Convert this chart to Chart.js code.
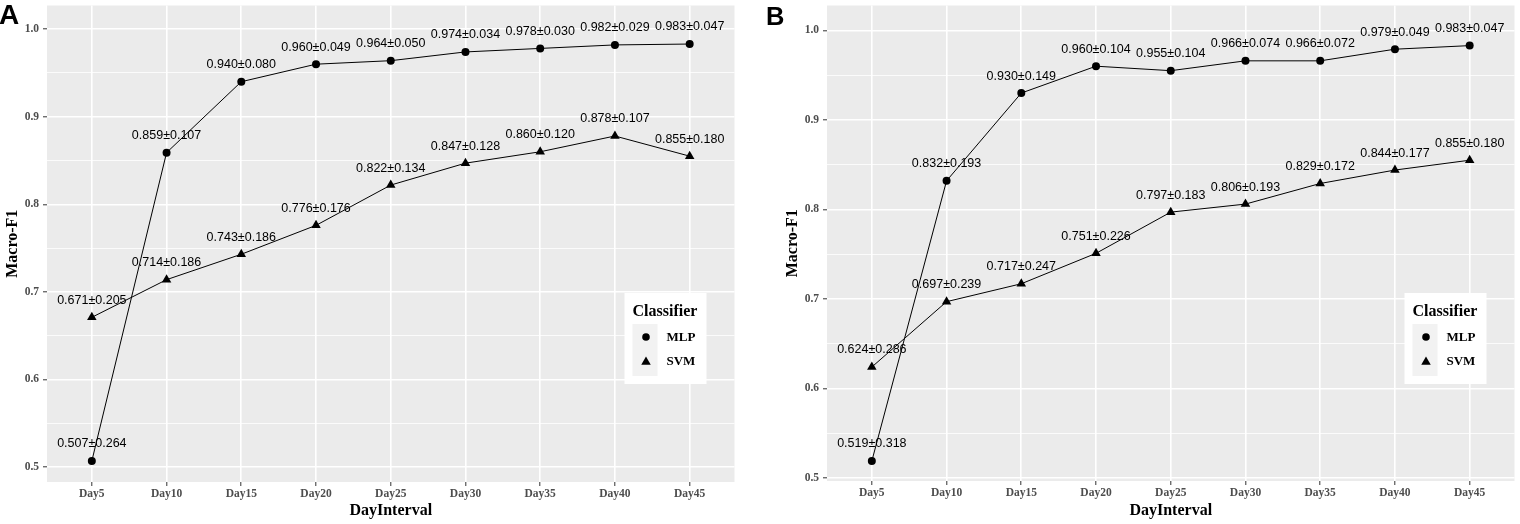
<!DOCTYPE html>
<html>
<head>
<meta charset="utf-8">
<script src="https://cdn.jsdelivr.net/npm/chart.js@4/dist/chart.umd.min.js"></script>
<style>
  body { margin: 0; background: #fff; }
  #wrap { position: relative; width: 1520px; height: 524px; overflow: hidden; }
  canvas { position: absolute; top: 0; }
  .panel-letter { position: absolute; font-family: 'Liberation Sans', Arial, sans-serif; font-weight: bold; line-height: 1; color: #000; }
</style>
</head>
<body>
<div id="wrap">
  <canvas id="chartA" width="740" height="524" style="left:0"></canvas>
  <canvas id="chartB" width="740" height="524" style="left:780px"></canvas>
  <div class="panel-letter" style="left:-1px; top:1px; font-size:28px;">A</div>
  <div class="panel-letter" style="left:766px; top:4px; font-size:25.5px;">B</div>
</div>
<script>
// categories
const dayLabels = ['Day5', 'Day10', 'Day15', 'Day20', 'Day25', 'Day30', 'Day35', 'Day40', 'Day45'];

// panel A
const mlpA = [0.507, 0.859, 0.940, 0.960, 0.964, 0.974, 0.978, 0.982, 0.983];
const mlpSdA = [0.264, 0.107, 0.080, 0.049, 0.050, 0.034, 0.030, 0.029, 0.047];
const svmA = [0.671, 0.714, 0.743, 0.776, 0.822, 0.847, 0.860, 0.878, 0.855];
const svmSdA = [0.205, 0.186, 0.186, 0.176, 0.134, 0.128, 0.120, 0.107, 0.180];

// panel B
const mlpB = [0.519, 0.832, 0.930, 0.960, 0.955, 0.966, 0.966, 0.979, 0.983];
const mlpSdB = [0.318, 0.193, 0.149, 0.104, 0.104, 0.074, 0.072, 0.049, 0.047];
const svmB = [0.624, 0.697, 0.717, 0.751, 0.797, 0.806, 0.829, 0.844, 0.855];
const svmSdB = [0.286, 0.239, 0.247, 0.226, 0.183, 0.193, 0.172, 0.177, 0.180];

// y ticks (major every 0.1, minor in between)
const yTicks = [0.5, 0.55, 0.6, 0.65, 0.7, 0.75, 0.8, 0.85, 0.9, 0.95, 1.0];

const serif = "'Liberation Serif', 'Times New Roman', serif";
const sans = "'Liberation Sans', Arial, sans-serif";

function isMajor(v) {
    return Math.abs(v * 10 - Math.round(v * 10)) < 1e-6;
}

// grey panel background like ggplot
const panelBg = {
    id: 'panelBg',
    beforeDraw(chart) {
        const { ctx, chartArea: a } = chart;
        ctx.save();
        ctx.fillStyle = '#EBEBEB';
        ctx.fillRect(a.left, a.top, a.right - a.left, a.bottom - a.top);
        ctx.restore();
    }
};

// "mean±sd" text above every point
const valueLabels = {
    id: 'valueLabels',
    afterDatasetsDraw(chart) {
        const ctx = chart.ctx;
        ctx.save();
        ctx.font = '12.5px ' + sans;
        ctx.fillStyle = '#000';
        ctx.textAlign = 'center';
        ctx.textBaseline = 'middle';
        chart.data.datasets.forEach((ds, di) => {
            const meta = chart.getDatasetMeta(di);
            meta.data.forEach((el, i) => {
                const txt = ds.means[i].toFixed(3) + '±' + ds.sds[i].toFixed(3);
                ctx.fillText(txt, el.x, el.y - 17);
            });
        });
        ctx.restore();
    }
};

function drawTriangle(ctx, x, y, r) {
    ctx.beginPath();
    for (let k = 0; k < 3; k++) {
        const rad = k * 2 * Math.PI / 3;
        const px = x + Math.sin(rad) * r;
        const py = y - Math.cos(rad) * r;
        if (k === 0) ctx.moveTo(px, py); else ctx.lineTo(px, py);
    }
    ctx.closePath();
    ctx.fill();
}

// legend box inside the panel
const classifierLegend = {
    id: 'classifierLegend',
    afterDraw(chart) {
        const { ctx, chartArea: a } = chart;
        const bx = a.right - 110, by = 293;
        ctx.save();
        ctx.fillStyle = '#fff';
        ctx.fillRect(bx, by, 82, 91);
        ctx.fillStyle = '#000';
        ctx.font = 'bold 16px ' + serif;
        ctx.textBaseline = 'alphabetic';
        ctx.textAlign = 'left';
        ctx.fillText('Classifier', bx + 8, 315.5);
        ctx.fillStyle = '#F2F2F2';
        ctx.fillRect(bx + 8, 324, 25, 52);
        ctx.fillStyle = '#000';
        ctx.beginPath();
        ctx.arc(bx + 21.5, 337, 3.8, 0, Math.PI * 2);
        ctx.fill();
        drawTriangle(ctx, bx + 21.5, 362, 5.5);
        ctx.font = 'bold 13px ' + serif;
        ctx.textBaseline = 'middle';
        ctx.fillText('MLP', bx + 42, 337.5);
        ctx.fillText('SVM', bx + 42, 361.5);
        ctx.restore();
    }
};

function makeChart(canvasId, mlp, mlpSd, svm, svmSd, yMin, yMax, xAxisHeight) {
    const ctx = document.getElementById(canvasId).getContext('2d');
    return new Chart(ctx, {
        type: 'line',
        data: {
            datasets: [
                {
                    label: 'MLP',
                    data: mlp.map((v, i) => ({ x: i + 1, y: v })),
                    means: mlp,
                    sds: mlpSd,
                    borderColor: '#000',
                    borderWidth: 1,
                    pointStyle: 'circle',
                    pointRadius: 4,
                    pointBackgroundColor: '#000',
                    pointBorderWidth: 0,
                    tension: 0
                },
                {
                    label: 'SVM',
                    data: svm.map((v, i) => ({ x: i + 1, y: v })),
                    means: svm,
                    sds: svmSd,
                    borderColor: '#000',
                    borderWidth: 1,
                    pointStyle: 'triangle',
                    pointRadius: 5.5,
                    pointBackgroundColor: '#000',
                    pointBorderWidth: 0,
                    tension: 0
                }
            ]
        },
        options: {
            responsive: false,
            animation: false,
            layout: { padding: { top: 3, right: 5, left: 0, bottom: 0 } },
            plugins: {
                legend: { display: false },
                tooltip: { enabled: false }
            },
            scales: {
                x: {
                    type: 'linear',
                    min: 0.4,
                    max: 9.6,
                    afterBuildTicks: (scale) => {
                        scale.ticks = dayLabels.map((d, i) => ({ value: i + 1 }));
                    },
                    afterFit: (scale) => {
                        scale.height = xAxisHeight;
                        scale.paddingLeft = 0;
                        scale.paddingRight = 0;
                    },
                    border: { display: false },
                    grid: {
                        color: '#fff',
                        lineWidth: 1.6,
                        tickColor: '#333',
                        tickLength: 4,
                        tickWidth: 1
                    },
                    ticks: {
                        autoSkip: false,
                        maxRotation: 0,
                        padding: 1,
                        color: '#4D4D4D',
                        font: { family: serif, size: 11.5, weight: 'bold' },
                        callback: (v) => dayLabels[Math.round(v) - 1]
                    },
                    title: {
                        display: true,
                        text: 'DayInterval',
                        color: '#000',
                        font: { family: serif, size: 16, weight: 'bold' },
                        padding: { top: 0, bottom: 3.5 }
                    }
                },
                y: {
                    type: 'linear',
                    min: yMin,
                    max: yMax,
                    afterBuildTicks: (scale) => {
                        scale.ticks = yTicks.map(v => ({ value: v }));
                    },
                    afterFit: (scale) => {
                        scale.width = 47;
                        scale.paddingTop = 0;
                        scale.paddingBottom = 0;
                    },
                    border: { display: false },
                    grid: {
                        color: '#fff',
                        lineWidth: (c) => (c.tick && isMajor(c.tick.value)) ? 1.6 : 0.8,
                        tickColor: (c) => (c.tick && isMajor(c.tick.value)) ? '#333' : 'rgba(0,0,0,0)',
                        tickLength: 4,
                        tickWidth: 1
                    },
                    ticks: {
                        autoSkip: false,
                        padding: 4,
                        color: '#4D4D4D',
                        font: { family: serif, size: 11.5, weight: 'bold' },
                        callback: (v) => isMajor(v) ? v.toFixed(1) : ''
                    },
                    title: {
                        display: true,
                        text: 'Macro-F1',
                        color: '#000',
                        font: { family: serif, size: 16, weight: 'bold' },
                        padding: { top: 3, bottom: 0 }
                    }
                }
            }
        },
        plugins: [panelBg, valueLabels, classifierLegend]
    });
}

makeChart('chartA', mlpA, mlpSdA, svmA, svmSdA, 0.483, 1.027, 42);
makeChart('chartB', mlpB, mlpSdB, svmB, svmSdB, 0.4967, 1.0278, 43);
</script>
</body>
</html>
